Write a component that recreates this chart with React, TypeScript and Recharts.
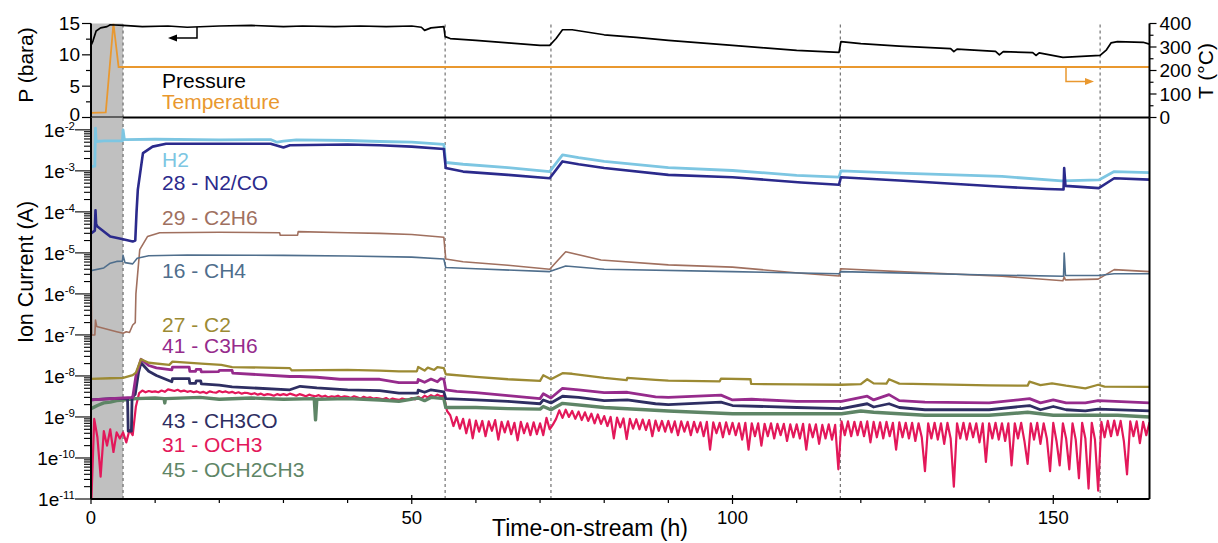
import React from "react";
import { LineChart, Line, XAxis, YAxis, ReferenceArea, ReferenceLine } from "recharts";

const FONT = "'Liberation Sans', Arial, Helvetica, sans-serif";

// ---------- axis ticks ----------
const X_TICKS = [0, 10, 20, 30, 40, 50, 60, 70, 80, 90, 100, 110, 120, 130, 140, 150, 160];
const X_LABELS = [0, 50, 100, 150];
const P_TICKS = [0, 2.5, 5, 7.5, 10, 12.5, 15];
const P_LABELS = [0, 5, 10, 15];
const T_TICKS = [0, 50, 100, 150, 200, 250, 300, 350, 400];
const T_LABELS = [0, 100, 200, 300, 400];
const LOG_MAJOR = [1e-11, 1e-10, 1e-9, 1e-8, 1e-7, 1e-6, 1e-5, 1e-4, 1e-3, 1e-2];
const LOG_MINOR_MULT = [2, 3, 4, 5, 6, 7, 8, 9];
const LOG_TICKS = LOG_MAJOR.flatMap((d) => [d, ...(d < 1e-2 ? LOG_MINOR_MULT.map((m) => d * m) : [])]);

// ---------- events ----------
const SHADE = [0, 5];
const EVENT_TIMES = [5, 55.2, 71.7, 116.8, 157.3];

// ---------- top panel: pressure (bara) and temperature (°C) ----------
const pressureT = [0, 0.3, 0.8, 1.5, 2.5, 3, 5, 8, 12, 15, 20, 25, 30, 33, 38, 42, 46, 50, 51.5, 52, 53, 55, 55.2, 56, 60, 65, 70, 71.5, 72.5, 73.5, 75, 80, 85, 90, 95, 100, 105, 110, 116.6, 116.9, 120, 126, 130, 134, 134.5, 135, 141, 141.6, 142.2, 146.8, 147.3, 147.8, 151.5, 157.3, 158.3, 159, 160, 164, 165];
const pressureV = [11.5, 12.2, 13.8, 14.3, 14.5, 14.8, 14.7, 14.5, 14.6, 14.4, 14.6, 14.7, 14.5, 14.6, 14.5, 14.6, 14.5, 14.6, 14.4, 13.9, 14.3, 14.5, 12.9, 12.6, 12.3, 11.9, 11.5, 11.5, 12.6, 14.0, 14.0, 13.2, 12.8, 12.3, 11.9, 11.5, 11.1, 10.7, 10.4, 12.1, 11.8, 11.4, 11.2, 11.0, 10.5, 10.9, 10.55, 10.0, 10.5, 10.35, 9.9, 10.3, 9.6, 9.9, 10.8, 11.9, 12.1, 12.0, 11.7];
const tempT = [0, 2.3, 3.5, 4.3, 165];
const tempV = [20, 22, 400, 215, 215];

// ---------- bottom panel: ion currents ----------
// H2, values in 1e-3 A
const h2T = [0, 0.6, 0.7, 0.8, 2, 4.9, 5, 5.2, 10, 20, 28, 29, 30, 32, 40, 45, 50, 55, 55.3, 58, 65, 71.5, 73.5, 76, 80, 90, 100, 110, 116.6, 116.9, 126, 142, 151.3, 157.1, 159.5, 165];
const h2V = [1.27, 1.3, 11, 5.2, 5.4, 5.4, 10, 5.8, 5.9, 5.7, 5.8, 5.0, 5.3, 5.7, 5.5, 5.2, 5.0, 4.4, 1.6, 1.45, 1.2, 0.96, 2.45, 2.1, 1.7, 1.2, 1.02, 0.78, 0.7, 1.0, 0.88, 0.73, 0.57, 0.6, 0.96, 0.91];
// 28 - N2/CO, 1e-3 A
const n2T = [0, 0.6, 0.7, 0.8, 1, 3, 5, 6.5, 6.9, 7.1, 7.3, 8.1, 9.6, 11.7, 20, 28, 30, 31, 40, 45, 50, 55, 55.3, 58, 65, 71.5, 73.5, 76, 80, 90, 100, 110.7, 116.6, 116.9, 126, 142, 149, 151.6, 151.7, 151.9, 157.1, 159.5, 165];
const n2V = [0.03, 0.035, 0.11, 0.05, 0.044, 0.025, 0.0215, 0.019, 0.02, 0.1, 0.35, 2.7, 3.9, 4.6, 4.6, 4.6, 3.7, 4.2, 4.4, 4.2, 3.9, 3.4, 1.17, 0.96, 0.8, 0.66, 1.7, 1.45, 1.17, 0.8, 0.7, 0.52, 0.46, 0.7, 0.58, 0.41, 0.36, 0.35, 1.17, 0.43, 0.38, 0.66, 0.61];
// 29 - C2H6, 1e-6 A
const c2h6T = [0, 0.1, 0.6, 0.7, 0.9, 4, 5, 5.5, 6, 6.5, 6.9, 7.0, 7.6, 8.8, 10.7, 20, 29.4, 29.5, 32.2, 32.3, 40, 45, 50, 55, 55.3, 58, 65, 71.5, 74, 79.5, 90, 100, 110.7, 116.6, 116.9, 126, 142, 151.5, 151.7, 151.9, 157, 159.5, 165];
const c2h6V = [10, 0.1, 0.1, 0.23, 0.16, 0.12, 0.11, 0.12, 0.115, 0.175, 0.2, 1.0, 12, 25, 31, 32, 31, 27, 27, 33, 31, 30, 28, 24, 7.1, 6.1, 5.0, 4.0, 10.7, 6.7, 5.1, 4.5, 3.2, 2.74, 4.1, 3.5, 2.7, 2.1, 2.6, 2.2, 2.3, 3.9, 3.5];
// 16 - CH4, 1e-6 A
const ch4T = [0, 2, 3, 4, 4.9, 5, 5.3, 6.5, 7.2, 9, 15, 30, 40, 50, 55, 55.3, 60, 71.5, 74, 80, 100, 116.6, 116.9, 140, 151.6, 151.7, 151.9, 157, 159.5, 165];
const ch4V = [3.7, 4.3, 5.6, 6.2, 6.3, 8.7, 5.8, 5.4, 7.4, 8.5, 8.9, 8.7, 8.4, 7.9, 7.1, 4.4, 4.1, 3.5, 4.8, 4.0, 3.5, 3.1, 3.5, 2.9, 2.7, 9.9, 2.8, 2.8, 3.1, 3.1];
// 27 - C2, 1e-9 A
const c2T = [0, 3, 5, 6.5, 7.0, 7.8, 9, 12.2, 12.7, 17.2, 20.3, 22, 31, 31.3, 35.6, 40, 45, 48, 50.8, 51, 52, 52.5, 53.5, 54, 55, 55.3, 60, 65, 70, 70.5, 71.7, 73.5, 75, 80, 83.5, 83.6, 88, 90, 98, 98.2, 102.8, 102.9, 110, 117, 120, 121, 122, 124, 124.4, 126, 130, 140, 146, 146.3, 148, 149.8, 152, 155, 157, 158, 165];
const c2V = [8.5, 8.8, 9.0, 10.5, 12, 25.5, 21, 18.6, 22.4, 20, 18.6, 16.5, 15.5, 13.6, 13.8, 14, 13.5, 13, 13, 16.5, 13.5, 16, 14, 16.5, 15.5, 11, 9.5, 8.3, 7.6, 10.4, 8.3, 11.7, 11.3, 9.0, 7.9, 9.0, 8.0, 7.7, 7.4, 8.6, 8.3, 6.4, 6.2, 6.1, 6.3, 8.3, 6.6, 6.5, 8.3, 6.5, 6.3, 5.9, 5.8, 7.3, 6.0, 6.6, 5.8, 5.0, 6.1, 5.5, 5.4];
// 41 - C3H6, 1e-9 A
const c3h6T = [0, 5, 6.5, 7.0, 7.8, 9, 10.2, 12.6, 12.7, 15.3, 15.4, 16.3, 16.4, 17.1, 17.2, 19.9, 20, 22, 22.1, 31, 32.6, 35.2, 38.8, 45, 48, 50.9, 51, 52, 53, 54, 54.5, 55, 55.3, 57, 60, 65, 70, 70.5, 71.7, 73.5, 76, 80, 83.6, 88, 90, 98.2, 100, 103, 110, 117, 121, 122, 124.4, 126, 130, 140, 146.3, 148, 150, 152, 155, 157, 165];
const c3h6V = [2.6, 2.9, 3.0, 10, 25.5, 18, 15.8, 14, 16.5, 16.5, 12.9, 12.9, 14.5, 14.5, 12.5, 12.8, 13.6, 13.6, 11.7, 9.7, 9.7, 9.3, 8.3, 8.3, 6.9, 6.9, 8.2, 7.0, 8.4, 7.2, 8.6, 8.4, 4.6, 4.2, 3.9, 3.3, 2.8, 3.7, 2.9, 5.0, 4.6, 3.9, 4.0, 3.1, 3.0, 3.4, 2.6, 2.7, 2.4, 2.4, 3.2, 2.6, 3.5, 2.5, 2.3, 2.2, 2.8, 2.2, 2.6, 2.2, 2.2, 2.5, 2.2];
// 43 - CH3CO, 1e-9 A
const ch3coT = [0, 3, 5, 5.7, 5.8, 6.3, 6.4, 6.9, 7.4, 7.8, 9, 10.2, 12.6, 12.7, 15.3, 15.4, 16.3, 16.4, 17.1, 17.2, 20, 22, 31, 32.6, 35.2, 40, 45, 48, 50.9, 51, 52, 53, 55, 55.3, 60, 65, 70, 70.5, 71.7, 73.5, 76, 80, 83.6, 88, 90, 98.2, 100, 110, 117, 121, 122, 124.4, 126, 130, 140, 146.3, 148, 150, 152, 155, 157, 165];
const ch3coV = [2.6, 2.8, 2.8, 2.8, 0.45, 0.45, 3.0, 3.6, 12, 21, 13, 10.3, 7.2, 8.6, 8.6, 6.6, 6.6, 7.6, 7.6, 6.4, 6.0, 5.4, 4.6, 5.6, 5.1, 4.6, 4.4, 3.8, 3.8, 4.5, 4.0, 4.6, 4.1, 2.8, 2.6, 2.4, 2.1, 2.6, 2.2, 3.2, 3.0, 2.5, 2.6, 2.1, 2.0, 2.3, 1.9, 1.7, 1.6, 2.1, 1.75, 2.1, 1.7, 1.5, 1.5, 1.9, 1.5, 1.8, 1.5, 1.4, 1.55, 1.4];
// 45 - OCH2CH3, 1e-9 A
const och2ch3T = [0, 1, 2, 3, 4, 5, 6, 7, 10, 11.4, 11.5, 11.6, 17, 20, 25, 30, 34.8, 35, 35.2, 40, 45, 48, 51, 52, 53, 55, 55.3, 60, 65, 70, 70.5, 71.7, 73.5, 80, 90, 100, 110, 117, 120, 122, 130, 140, 146, 150, 160, 165];
const och2ch3V = [1.6, 1.9, 2.2, 2.3, 2.5, 2.6, 2.7, 2.8, 2.9, 2.8, 2.2, 2.8, 3.0, 2.7, 2.9, 2.7, 2.8, 0.85, 2.7, 2.8, 2.6, 2.4, 2.9, 2.5, 3.0, 2.8, 1.7, 1.7, 1.6, 1.55, 1.8, 1.5, 2.15, 1.7, 1.4, 1.2, 1.2, 1.2, 1.4, 1.3, 1.1, 1.1, 1.3, 1.1, 1.1, 1.0];
// 31 - OCH3, sampled every 0.5 h, values in 1e-10 A
const OCH3_STEP_H = 0.5;
const och3V = [
  0.05, 9, 3.2, 0.35, 4.5, 2.0, 5.0, 1.4, 4.2, 3.0,
  4.2, 2.4, 4.8, 3.6, 18, 38, 44, 40, 43, 41,
  42, 40, 44, 41, 47, 45, 43, 46, 42, 44,
  41, 43, 40, 42, 39, 41, 38, 42, 40, 39,
  43, 40, 42, 39, 41, 38, 40, 37, 39, 38,
  36, 38, 35, 37, 34, 36, 35, 33, 36, 34,
  36, 34, 37, 35, 33, 36, 34, 32, 35, 33,
  32, 34, 31, 33, 30, 32, 31, 33, 30, 32,
  31, 29, 32, 30, 28, 31, 29, 30, 28, 29,
  28, 27, 29, 26, 28, 27, 26, 28, 27, 26,
  29, 27, 31, 28, 33, 30, 34, 31, 35, 32,
  33, 14, 11, 6.0, 10, 5.2, 9.0, 4.0, 8.6, 3.0,
  8.2, 4.4, 8.0, 3.4, 7.8, 4.6, 8.4, 2.8, 7.6, 4.2,
  7.8, 3.8, 7.2, 2.7, 7.6, 4.0, 7.0, 3.6, 7.4, 3.8,
  7.0, 3.6, 9.5, 5.0, 6.5, 9.0, 14.5, 9.5, 15, 10,
  14, 9.0, 13.5, 8.4, 13, 8.0, 12, 7.0, 11.5, 6.8,
  10.5, 6.0, 10, 3.0, 9.6, 5.6, 9.2, 2.9, 9.0, 5.2,
  8.8, 5.0, 8.6, 4.8, 8.4, 3.4, 8.2, 4.6, 8.0, 4.4,
  8.0, 4.2, 7.8, 3.6, 7.8, 4.4, 7.6, 3.6, 7.6, 4.2,
  7.4, 3.4, 7.6, 1.6, 7.4, 4.0, 7.2, 3.2, 7.4, 3.8,
  7.2, 3.6, 7.0, 2.8, 7.2, 1.6, 7.0, 3.4, 7.0, 2.0,
  6.8, 3.4, 7.0, 3.0, 6.8, 3.6, 6.8, 2.6, 6.6, 3.2,
  6.6, 3.0, 6.8, 1.6, 6.6, 3.2, 6.6, 2.2, 6.4, 3.0,
  6.6, 2.8, 6.4, 0.53, 7.8, 3.6, 7.8, 3.4, 7.6, 3.6,
  7.6, 3.4, 7.8, 2.4, 7.6, 3.2, 7.4, 3.0, 7.6, 3.4,
  7.2, 1.6, 7.4, 3.2, 7.2, 3.0, 7.2, 2.6, 7.0, 3.2,
  0.48, 7.0, 3.0, 7.2, 2.8, 7.0, 2.2, 7.2, 3.0, 0.2,
  7.0, 3.0, 7.2, 2.8, 7.0, 3.2, 7.0, 2.4, 7.0, 0.8,
  7.0, 3.0, 7.2, 2.8, 7.0, 2.6, 7.0, 0.66, 7.0, 3.0,
  7.2, 2.6, 0.72, 7.0, 2.8, 7.2, 2.2, 7.0, 3.0, 0.48,
  7.2, 2.6, 0.66, 7.0, 3.0, 0.53, 7.0, 2.8, 0.32, 7.2,
  3.0, 0.18, 7.2, 2.8, 0.16, 7.6, 3.2, 8.0, 3.4, 8.2,
  3.6, 8.0, 2.6, 0.4, 7.8, 3.4, 7.8, 2.3, 7.6, 3.6,
  7.4,
];

type Row = { t: number; v: number };
const pairs = (t: number[], v: number[], unit = 1): Row[] => t.map((x, i) => ({ t: x, v: v[i] * unit }));
const sampled = (v: number[], step: number, unit: number): Row[] => v.map((y, i) => ({ t: i * step, v: y * unit }));

const pressureRows = pairs(pressureT, pressureV);
const tempRows = pairs(tempT, tempV);

const C = {
  pressure: "#000000",
  temp: "#E9982F",
  h2: "#7DC6E2",
  n2: "#2B2A8C",
  c2h6: "#A0705F",
  ch4: "#4F6E8C",
  c2: "#9C8A33",
  c3h6: "#962B8C",
  ch3co: "#2E2E62",
  och3: "#E3185A",
  och2ch3: "#5E8566",
  shade: "#C0C0C0",
};

const ionSeries = [
  { key: "h2", rows: pairs(h2T, h2V, 1e-3), color: C.h2, w: 2.8 },
  { key: "n2", rows: pairs(n2T, n2V, 1e-3), color: C.n2, w: 2.6 },
  { key: "c2h6", rows: pairs(c2h6T, c2h6V, 1e-6), color: C.c2h6, w: 1.6 },
  { key: "ch4", rows: pairs(ch4T, ch4V, 1e-6), color: C.ch4, w: 1.6 },
  { key: "och3", rows: sampled(och3V, OCH3_STEP_H, 1e-10), color: C.och3, w: 2.2 },
  { key: "och2ch3", rows: pairs(och2ch3T, och2ch3V, 1e-9), color: C.och2ch3, w: 3.4 },
  { key: "ch3co", rows: pairs(ch3coT, ch3coV, 1e-9), color: C.ch3co, w: 2.8 },
  { key: "c3h6", rows: pairs(c3h6T, c3h6V, 1e-9), color: C.c3h6, w: 2.8 },
  { key: "c2", rows: pairs(c2T, c2V, 1e-9), color: C.c2, w: 2.3 },
];

const LABELS = [
  { text: "H2", color: C.h2, y: 166.7 },
  { text: "28 - N2/CO", color: C.n2, y: 190 },
  { text: "29 - C2H6", color: C.c2h6, y: 225 },
  { text: "16 - CH4", color: C.ch4, y: 278.3 },
  { text: "27 - C2", color: C.c2, y: 331.7 },
  { text: "41 - C3H6", color: C.c3h6, y: 353.3 },
  { text: "43 - CH3CO", color: C.ch3co, y: 428.3 },
  { text: "31 - OCH3", color: C.och3, y: 451.7 },
  { text: "45 - OCH2CH3", color: C.och2ch3, y: 476.7 },
];

const TICK_FS = 19;

const LogTick = (props: any) => {
  const { x, y, payload } = props;
  const v = payload.value as number;
  const e = Math.round(Math.log10(v));
  const major = Math.abs(v / Math.pow(10, e) - 1) < 1e-6;
  return (
    <g>
      <line x1={x - (major ? 16 : 7)} x2={x} y1={y} y2={y} stroke="#000" strokeWidth={1.1} />
      {major && (
        <text x={x - 16} y={y + 7} textAnchor="end" fontSize={TICK_FS} fontFamily={FONT} fill="#000">
          1e<tspan dy={-7} fontSize={11.5}>{String(e)}</tspan>
        </text>
      )}
    </g>
  );
};

const PTick = (props: any) => {
  const { x, y, payload } = props;
  const major = P_LABELS.includes(payload.value);
  return (
    <g>
      <line x1={x - (major ? 9 : 5)} x2={x} y1={y} y2={y} stroke="#000" strokeWidth={1.2} />
      {major && (
        <text x={x - 11} y={y + (payload.value === 0 ? 3.5 : 6.5)} textAnchor="end" fontSize={TICK_FS} fontFamily={FONT} fill="#000">
          {payload.value}
        </text>
      )}
    </g>
  );
};

const TTick = (props: any) => {
  const { x, y, payload } = props;
  const major = T_LABELS.includes(payload.value);
  return (
    <g>
      <line x1={x} x2={x + (major ? 7 : 4)} y1={y} y2={y} stroke="#000" strokeWidth={1.2} />
      {major && (
        <text x={x + 10} y={y + 6.5} textAnchor="start" fontSize={TICK_FS} fontFamily={FONT} fill="#000">
          {payload.value}
        </text>
      )}
    </g>
  );
};

const XTick = (props: any) => {
  const { x, y, payload } = props;
  const major = X_LABELS.includes(payload.value);
  return (
    <g>
      <line x1={x} x2={x} y1={major ? y - 4 : y} y2={y + (major ? 5 : 4)} stroke="#000" strokeWidth={1.2} />
      {major && (
        <text x={x} y={y + 24.5} textAnchor="middle" fontSize={18.5} fontFamily={FONT} fill="#000">
          {payload.value}
        </text>
      )}
    </g>
  );
};

const AXIS_LINE = { stroke: "#000", strokeWidth: 2 };

export default function App() {
  return (
    <div style={{ position: "absolute", left: 0, top: 0, width: 1218, height: 543, background: "#fff", fontFamily: FONT }}>
      {/* Top panel */}
      <div style={{ position: "absolute", left: 0, top: 0 }}>
        <LineChart width={1218} height={136} margin={{ top: 23.5, right: 0, bottom: 0, left: 0 }}>
          <ReferenceArea xAxisId="b" yAxisId="p" x1={SHADE[0]} x2={SHADE[1]} y1={0} y2={15} fill={C.shade} fillOpacity={1} stroke="none" />
          {EVENT_TIMES.map((t) => (
            <ReferenceLine key={t} xAxisId="b" yAxisId="p" x={t} stroke="#555" strokeWidth={1} strokeDasharray="3 3" />
          ))}
          <XAxis xAxisId="b" type="number" dataKey="t" domain={[0, 165]} ticks={X_TICKS} interval={0} height={18.5}
            tickSize={5} tick={false} tickLine={{ stroke: "#000", strokeWidth: 1.2 }} axisLine={AXIS_LINE} allowDataOverflow />
          <XAxis xAxisId="top" orientation="top" type="number" dataKey="t" domain={[0, 165]} height={0}
            tick={false} tickLine={false} axisLine={AXIS_LINE} allowDataOverflow />
          <YAxis yAxisId="p" type="number" domain={[0, 15]} ticks={P_TICKS} interval={0} width={91}
            tickSize={0} tickMargin={0} tickLine={false} tick={<PTick />} axisLine={AXIS_LINE} allowDataOverflow />
          <YAxis yAxisId="T" orientation="right" type="number" domain={[0, 400]} ticks={T_TICKS} interval={0} width={68.5}
            tickSize={0} tickMargin={0} tickLine={false} tick={<TTick />} axisLine={AXIS_LINE} allowDataOverflow />
          <Line data={tempRows} xAxisId="b" yAxisId="T" dataKey="v" type="linear" stroke={C.temp} strokeWidth={1.8}
            dot={false} isAnimationActive={false} />
          <Line data={pressureRows} xAxisId="b" yAxisId="p" dataKey="v" type="linear" stroke={C.pressure} strokeWidth={1.7}
            dot={false} isAnimationActive={false} strokeLinejoin="round" />
        </LineChart>
      </div>

      {/* Bottom panel */}
      <div style={{ position: "absolute", left: 0, top: 0 }}>
        <LineChart width={1218} height={543} margin={{ top: 117.5, right: 0, bottom: 0, left: 0 }}>
          <ReferenceArea xAxisId="b" yAxisId="ion" x1={SHADE[0]} x2={SHADE[1]} fill={C.shade} fillOpacity={1} stroke="none" />
          {EVENT_TIMES.map((t) => (
            <ReferenceLine key={t} xAxisId="b" yAxisId="ion" x={t} stroke="#555" strokeWidth={1} strokeDasharray="3 3" />
          ))}
          <XAxis xAxisId="b" type="number" dataKey="t" domain={[0, 165]} ticks={X_TICKS} interval={0} height={44}
            tickSize={0} tickMargin={0} tickLine={false} tick={<XTick />} axisLine={AXIS_LINE} allowDataOverflow />
          <XAxis xAxisId="top" orientation="top" type="number" dataKey="t" domain={[0, 165]} height={0}
            tick={false} tickLine={false} axisLine={AXIS_LINE} allowDataOverflow />
          <YAxis yAxisId="ion" type="number" scale="log" domain={[1e-11, 2e-2]} ticks={LOG_TICKS} interval={0} width={91}
            tickSize={0} tickMargin={0} tickLine={false} tick={<LogTick />} axisLine={AXIS_LINE} allowDataOverflow />
          <YAxis yAxisId="r" orientation="right" type="number" domain={[0, 1]} width={68.5}
            tick={false} tickLine={false} axisLine={AXIS_LINE} />
          {ionSeries.map((s) => (
            <Line key={s.key} data={s.rows} xAxisId="b" yAxisId="ion" dataKey="v" type="linear" stroke={s.color}
              strokeWidth={s.w} dot={false} isAnimationActive={false} strokeLinejoin="round" />
          ))}
        </LineChart>
      </div>

      {/* Annotations */}
      <svg width={1218} height={543} style={{ position: "absolute", left: 0, top: 0, pointerEvents: "none" }}>
        <g fontFamily={FONT}>
          <text x={162} y={87.7} fontSize={21} fill={C.pressure}>Pressure</text>
          <text x={162} y={109} fontSize={21} fill={C.temp}>Temperature</text>
          {LABELS.map((l) => (
            <text key={l.text} x={162} y={l.y} fontSize={21} fill={l.color}>{l.text}</text>
          ))}
          <text transform="translate(33,65) rotate(-90)" textAnchor="middle" fontSize={21} fill="#000">P (bara)</text>
          <text transform="translate(33,272) rotate(-90)" textAnchor="middle" fontSize={21.5} fill="#000">Ion Current (A)</text>
          <text transform="translate(1213,71) rotate(-90)" textAnchor="middle" fontSize={21} fill="#000">T (°C)</text>
          <text x={590} y={536} textAnchor="middle" fontSize={23} fill="#000">Time-on-stream (h)</text>
        </g>
        <path d="M197,27 V38 H176" fill="none" stroke="#000" strokeWidth={1.5} />
        <polygon points="168,38 177,34.5 177,41.5" fill="#000" />
        <path d="M1066,68 V81.5 H1086" fill="none" stroke={C.temp} strokeWidth={1.5} />
        <polygon points="1094,81.5 1085,78 1085,85" fill={C.temp} />
      </svg>
    </div>
  );
}
